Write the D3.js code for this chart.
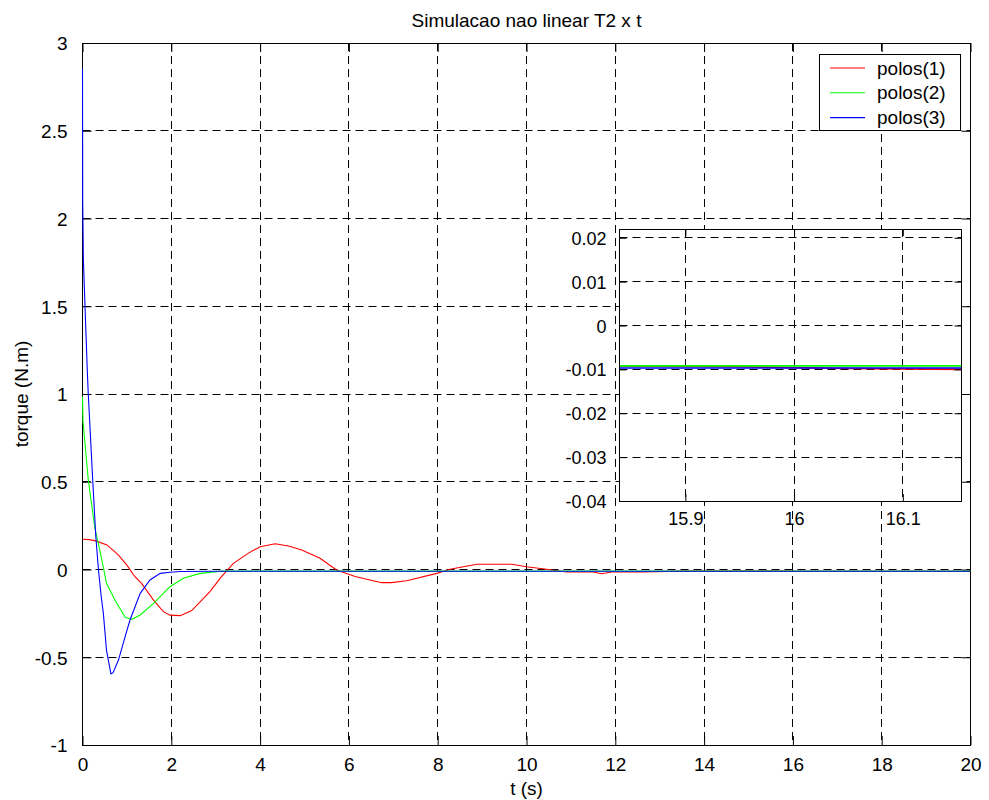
<!DOCTYPE html>
<html>
<head>
<meta charset="utf-8">
<script src="https://cdn.jsdelivr.net/npm/d3@7"></script>
<style>
  html, body { margin: 0; padding: 0; background: #fff; }
  svg { display: block; font-family: "Liberation Sans", Arial, Helvetica, sans-serif; }
</style>
</head>
<body>
<svg id="chart" width="989" height="800"></svg>
<script>
// ---------- data ----------
const titleText = "Simulacao nao linear T2 x t";
const xLabelText = "t (s)";
const yLabelText = "torque (N.m)";
const seriesNames = ["polos(1)", "polos(2)", "polos(3)"];
const seriesColors = ["#ff0000", "#00ff00", "#0000ff"];

const xTicks = [0, 2, 4, 6, 8, 10, 12, 14, 16, 18, 20];
const yTicks = [-1, -0.5, 0, 0.5, 1, 1.5, 2, 2.5, 3];
const insetXTicks = [15.9, 16, 16.1];
const insetYTicks = [0.02, 0.01, 0, -0.01, -0.02, -0.03, -0.04];

const redT = [0, 0.15, 0.3, 0.55, 0.8, 1.0, 1.18, 1.33, 1.6, 1.82, 1.97, 2.2, 2.46, 2.87, 3.13, 3.4, 3.73, 4.0, 4.34, 4.64, 4.94, 5.35, 5.72, 6.14, 6.74, 6.96, 7.3, 7.98, 8.28, 8.58, 8.88, 9.67, 10.0, 10.45, 10.9, 11.5, 11.69, 11.92, 12.6, 13.5, 14.5, 15.84, 15.95, 16.05, 16.16, 17, 20];
const redV = [0.172, 0.170, 0.163, 0.14, 0.085, 0.025, -0.041, -0.079, -0.174, -0.24, -0.26, -0.263, -0.234, -0.126, -0.041, 0.035, 0.092, 0.13, 0.147, 0.134, 0.111, 0.064, -0.003, -0.04, -0.075, -0.075, -0.064, -0.022, 0.001, 0.016, 0.03, 0.03, 0.016, 0.001, -0.014, -0.014, -0.024, -0.014, -0.014, -0.009, -0.009, -0.0092, -0.0094, -0.0098, -0.0100, -0.0101, -0.0100];

const greenT = [0, 0.01, 0.13, 0.28, 0.39, 0.48, 0.54, 0.73, 0.96, 1.11, 1.3, 1.6, 1.97, 2.27, 2.65, 3.13, 5, 15.84, 16.16, 20];
const greenV = [0.985, 0.85, 0.51, 0.235, 0.111, 0.0, -0.079, -0.174, -0.272, -0.284, -0.259, -0.193, -0.098, -0.05, -0.022, -0.0092, -0.0092, -0.0092, -0.0092, -0.0092];

const blueT = [0, 0.005, 0.02, 0.11, 0.13, 0.23, 0.3, 0.36, 0.42, 0.47, 0.54, 0.64, 0.69, 0.81, 0.96, 1.07, 1.3, 1.52, 1.75, 1.97, 2.2, 3, 20];
const blueV = [2.85, 2.1, 1.76, 1.12, 1.0, 0.51, 0.187, -0.003, -0.15, -0.25, -0.459, -0.595, -0.588, -0.516, -0.383, -0.288, -0.136, -0.06, -0.022, -0.016, -0.011, -0.0097, -0.0097];

const seriesT = [redT, greenT, blueT];
const seriesV = [redV, greenV, blueV];

// ---------- layout ----------
const svg = d3.select("#chart");
const M = { left: 82.5, right: 970.5, top: 43, bottom: 745 };
const I = { left: 619.5, right: 961.5, top: 229, bottom: 501 };

const x = d3.scaleLinear().domain([0, 20]).range([M.left, M.right]);
const y = d3.scaleLinear().domain([-1, 3]).range([M.bottom, M.top]);
const xi = d3.scaleLinear().domain([15.8394, 16.154]).range([I.left, I.right]);
const yi = d3.scaleLinear().domain([-0.04, 0.022]).range([I.bottom, I.top]);

const crisp = v => Math.round(v - 0.5) + 0.5;
const dash = "8,5";
const fontMain = "19px";
const fmt = d => String(d);   // plain hyphen-minus, as in the reference

function seriesData(k) { return seriesT[k].map((t, i) => [t, seriesV[k][i]]); }

// ---------- main axes ----------
const main = svg.append("g");
main.append("rect").attr("x", M.left).attr("y", M.top)
  .attr("width", M.right - M.left).attr("height", M.bottom - M.top).attr("fill", "#fff");

// grid
main.append("g").selectAll("line").data(xTicks.slice(1, -1)).join("line")
  .attr("x1", d => crisp(x(d))).attr("x2", d => crisp(x(d)))
  .attr("y1", M.top).attr("y2", M.bottom)
  .attr("stroke", "#000").attr("stroke-width", 1).attr("stroke-dasharray", dash);
main.append("g").selectAll("line").data(yTicks.slice(1, -1)).join("line")
  .attr("y1", d => crisp(y(d))).attr("y2", d => crisp(y(d)))
  .attr("x1", M.left).attr("x2", M.right)
  .attr("stroke", "#000").attr("stroke-width", 1).attr("stroke-dasharray", dash);

// axes with inward ticks
const tickLen = 9;
const axB = main.append("g").attr("transform", `translate(0,${M.bottom})`)
  .call(d3.axisBottom(x).tickValues(xTicks).tickFormat(fmt).tickSizeInner(-tickLen).tickSizeOuter(0).tickPadding(tickLen + 3));
const axT = main.append("g").attr("transform", `translate(0,${M.top})`)
  .call(d3.axisTop(x).tickValues(xTicks).tickFormat("").tickSizeInner(-tickLen).tickSizeOuter(0));
const axL = main.append("g").attr("transform", `translate(${M.left},0)`)
  .call(d3.axisLeft(y).tickValues(yTicks).tickFormat(fmt).tickSizeInner(-tickLen).tickSizeOuter(0).tickPadding(tickLen + 6));
const axR = main.append("g").attr("transform", `translate(${M.right},0)`)
  .call(d3.axisRight(y).tickValues(yTicks).tickFormat("").tickSizeInner(-tickLen).tickSizeOuter(0));
[axB, axT, axL, axR].forEach(g => {
  g.select(".domain").remove();
  g.selectAll("line").attr("stroke", "#000");
  g.selectAll("text").attr("fill", "#000").style("font-size", fontMain).style("font-family", "Liberation Sans, Arial, sans-serif");
});
axB.selectAll("text").attr("dy", "0.75em");
axL.selectAll("text").attr("dy", "0.36em");

main.append("rect").attr("x", M.left).attr("y", M.top + 0.5)
  .attr("width", M.right - M.left).attr("height", M.bottom - M.top)
  .attr("fill", "none").attr("stroke", "#000").attr("stroke-width", 1);

// series (drawn above the frame, like the reference)
const clipMain = svg.append("clipPath").attr("id", "clipMain");
clipMain.append("rect").attr("x", M.left - 2).attr("y", M.top)
  .attr("width", M.right - M.left + 2).attr("height", M.bottom - M.top);
const line = d3.line().x(d => x(d[0])).y(d => y(d[1]));
const lines = main.append("g").attr("clip-path", "url(#clipMain)");
[0, 1, 2].forEach(k => {
  lines.append("path").datum(seriesData(k)).attr("d", line)
    .attr("fill", "none").attr("stroke", seriesColors[k]).attr("stroke-width", 1.1);
});

// title and labels
svg.append("text").attr("x", (M.left + M.right) / 2).attr("y", 27)
  .attr("text-anchor", "middle").style("font-size", fontMain).text(titleText);
svg.append("text").attr("x", (M.left + M.right) / 2).attr("y", 795)
  .attr("text-anchor", "middle").style("font-size", fontMain).text(xLabelText);
svg.append("text").attr("transform", `translate(28,${(M.top + M.bottom) / 2}) rotate(-90)`)
  .attr("text-anchor", "middle").style("font-size", fontMain).text(yLabelText);

// ---------- legend ----------
const leg = svg.append("g");
leg.append("rect").attr("x", 819.5).attr("y", 54.5).attr("width", 141).attr("height", 76)
  .attr("fill", "#fff").attr("stroke", "#000").attr("stroke-width", 1);
seriesNames.forEach((name, k) => {
  const ly = 68 + k * 24.8;
  leg.append("line").attr("x1", 830).attr("x2", 865).attr("y1", ly).attr("y2", ly)
    .attr("stroke", seriesColors[k]).attr("stroke-width", 1.1);
  leg.append("text").attr("x", 877).attr("y", ly).attr("dy", "0.35em")
    .style("font-size", fontMain).text(name);
});

// ---------- inset ----------
const ins = svg.append("g");
ins.append("rect").attr("x", I.left).attr("y", I.top)
  .attr("width", I.right - I.left).attr("height", I.bottom - I.top).attr("fill", "#fff");
ins.append("g").selectAll("line").data(insetXTicks).join("line")
  .attr("x1", d => crisp(xi(d))).attr("x2", d => crisp(xi(d)))
  .attr("y1", I.top).attr("y2", I.bottom)
  .attr("stroke", "#000").attr("stroke-dasharray", dash);
ins.append("g").selectAll("line").data(insetYTicks).join("line")
  .attr("y1", d => crisp(yi(d))).attr("y2", d => crisp(yi(d)))
  .attr("x1", I.left).attr("x2", I.right)
  .attr("stroke", "#000").attr("stroke-dasharray", dash);

const clipIns = svg.append("clipPath").attr("id", "clipIns");
clipIns.append("rect").attr("x", I.left).attr("y", I.top)
  .attr("width", I.right - I.left).attr("height", I.bottom - I.top);
const lineI = d3.line().x(d => xi(d[0])).y(d => yi(d[1]));
const linesI = ins.append("g").attr("clip-path", "url(#clipIns)");
[0, 1, 2].forEach(k => {
  linesI.append("path").datum(seriesData(k)).attr("d", lineI)
    .attr("fill", "none").attr("stroke", seriesColors[k]).attr("stroke-width", 1.6);
});

const tl = 7;
const iB = ins.append("g").attr("transform", `translate(0,${I.bottom})`)
  .call(d3.axisBottom(xi).tickValues(insetXTicks).tickFormat(fmt).tickSizeInner(-tl).tickSizeOuter(0).tickPadding(tl + 3));
const iT = ins.append("g").attr("transform", `translate(0,${I.top})`)
  .call(d3.axisTop(xi).tickValues(insetXTicks).tickFormat("").tickSizeInner(-tl).tickSizeOuter(0));
const iL = ins.append("g").attr("transform", `translate(${I.left},0)`)
  .call(d3.axisLeft(yi).tickValues(insetYTicks).tickFormat(fmt).tickSizeInner(-tl).tickSizeOuter(0).tickPadding(tl + 6));
const iR = ins.append("g").attr("transform", `translate(${I.right},0)`)
  .call(d3.axisRight(yi).tickValues(insetYTicks).tickFormat("").tickSizeInner(-tl).tickSizeOuter(0));
[iB, iT, iL, iR].forEach(g => {
  g.select(".domain").remove();
  g.selectAll("line").attr("stroke", "#000");
  g.selectAll("text").attr("fill", "#000").style("font-size", "18px").style("font-family", "Liberation Sans, Arial, sans-serif");
});
iB.selectAll("text").attr("dy", "0.75em");
iL.selectAll("text").attr("dy", "0.36em");
ins.append("rect").attr("x", I.left).attr("y", I.top + 0.5)
  .attr("width", I.right - I.left).attr("height", I.bottom - I.top)
  .attr("fill", "none").attr("stroke", "#000").attr("stroke-width", 1);
</script>
</body>
</html>
